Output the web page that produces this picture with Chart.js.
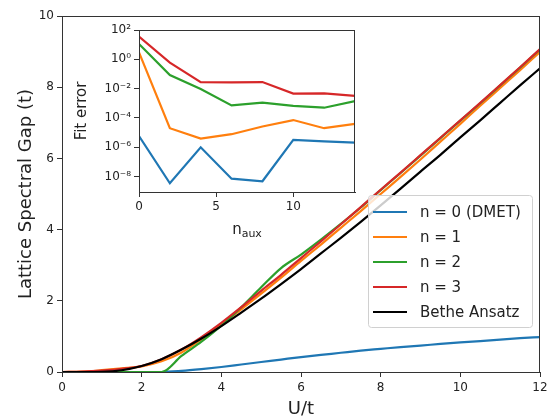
<!DOCTYPE html>
<html>
<head>
<meta charset="utf-8">
<script src="https://cdn.jsdelivr.net/npm/chart.js@4.4.0/dist/chart.umd.min.js"></script>
<style>
    body { margin: 0; background: #fff; }
    #wrap { position: relative; width: 548px; height: 417px; }
    #mainChart { position: absolute; left: 0; top: 0; }
    #insetChart { position: absolute; left: 60px; top: 0; }
</style>
</head>
<body>
<div id="wrap">
    <canvas id="mainChart" width="548" height="417"></canvas>
    <canvas id="insetChart" width="310" height="260"></canvas>
</div>
<script>
// main panel: spectral gap vs U/t
const uValues   = [0, 0.5, 1, 1.5, 2, 2.5, 3, 3.5, 4, 4.5, 5, 5.5, 6, 6.5, 7, 7.5, 8, 8.5, 9, 9.5, 10, 10.5, 11, 11.5, 12];
const gapDMET   = [0, 0, 0, 0, 0, 0, 0.03, 0.08, 0.14, 0.21, 0.28, 0.35, 0.42, 0.48, 0.54, 0.60, 0.65, 0.70, 0.74, 0.79, 0.83, 0.87, 0.91, 0.95, 0.98];
const gapN1     = [0, 0.01, 0.05, 0.1, 0.16, 0.3, 0.55, 0.92, 1.34, 1.76, 2.2, 2.65, 3.12, 3.58, 4.05, 4.52, 5.0, 5.48, 5.97, 6.47, 6.97, 7.48, 7.98, 8.48, 8.99];
const gapN2     = [0, 0, 0, 0, 0, 0, 0.45, 0.85, 1.3, 1.82, 2.38, 2.92, 3.3, 3.72, 4.16, 4.62, 5.11, 5.59, 6.08, 6.57, 7.06, 7.55, 8.05, 8.55, 9.06];
const gapN3     = [0, 0.01, 0.04, 0.09, 0.17, 0.36, 0.63, 0.98, 1.38, 1.82, 2.28, 2.73, 3.2, 3.67, 4.15, 4.63, 5.12, 5.6, 6.09, 6.58, 7.07, 7.56, 8.06, 8.56, 9.07];
const gapBethe  = [0, 0, 0.005, 0.05, 0.17, 0.36, 0.63, 0.94, 1.29, 1.67, 2.06, 2.47, 2.89, 3.33, 3.77, 4.22, 4.68, 5.15, 5.63, 6.10, 6.59, 7.07, 7.56, 8.05, 8.53];
const mainXTicks = [0, 2, 4, 6, 8, 10, 12];
const mainYTicks = [0, 2, 4, 6, 8, 10];

// inset: fit error vs n_aux
const nAux   = [0, 2, 4, 6, 8, 10, 12, 14];
const errN0  = [5.9e-6, 3.5e-9, 1.0e-6, 7.2e-9, 4.8e-9, 3.2e-6, 2.5e-6, 2.1e-6];
const errN1  = [3.0, 2.0e-5, 3.9e-6, 7.8e-6, 2.6e-5, 7.2e-5, 2.0e-5, 3.9e-5];
const errN2  = [11.2, 0.085, 9.5e-3, 7.2e-4, 1.1e-3, 6.6e-4, 5.0e-4, 1.4e-3];
const errN3  = [35, 0.59, 0.028, 0.027, 0.028, 4.6e-3, 4.8e-3, 3.2e-3];
const insetXTicks = [0, 5, 10];
const insetYExp   = [-8, -6, -4, -2, 0, 2];

const seriesNames  = ['n = 0 (DMET)', 'n = 1', 'n = 2', 'n = 3', 'Bethe Ansatz'];
const seriesColors = ['#1f77b4', '#ff7f0e', '#2ca02c', '#d62728', '#000000'];

const FONT = "'DejaVu Sans', sans-serif";
const TEXT = '#222';
const SPINE = '#333';

function pts(xs, ys) {
    return xs.map((x, i) => ({ x: x, y: ys[i] }));
}

function supers(n) {
    const map = { '-': '⁻', '0': '⁰', '1': '¹', '2': '²', '3': '³', '4': '⁴', '5': '⁵', '6': '⁶', '7': '⁷', '8': '⁸', '9': '⁹' };
    return String(n).split('').map(c => map[c]).join('');
}

// full box around the axes + matplotlib-like legend in the lower right
const mainDeco = {
    id: 'mainDeco',
    afterDraw(chart) {
        const ctx = chart.ctx;
        const a = chart.chartArea;
        ctx.save();
        ctx.strokeStyle = SPINE;
        ctx.lineWidth = 1;
        ctx.strokeRect(Math.round(a.left) + 0.5, Math.round(a.top) + 0.5, Math.round(a.right - a.left) - 1, Math.round(a.bottom - a.top));

        const x0 = 368, y0 = 195, w = 164, h = 132;
        ctx.fillStyle = 'rgba(255,255,255,0.8)';
        ctx.strokeStyle = '#d0d0d0';
        ctx.beginPath();
        ctx.roundRect(x0 + 0.5, y0 + 0.5, w, h, 3);
        ctx.fill();
        ctx.stroke();
        ctx.font = '15px ' + FONT;
        ctx.textBaseline = 'middle';
        seriesNames.forEach((name, i) => {
            const y = 212 + i * 25;
            ctx.strokeStyle = seriesColors[i];
            ctx.lineWidth = 2.2;
            ctx.beginPath();
            ctx.moveTo(373, y);
            ctx.lineTo(407, y);
            ctx.stroke();
            ctx.fillStyle = TEXT;
            ctx.fillText(name, 420, y + 1);
        });
        ctx.restore();
    }
};

const gapSeries = [gapDMET, gapN1, gapN2, gapN3, gapBethe];

new Chart(document.getElementById('mainChart'), {
    type: 'line',
    data: {
        datasets: gapSeries.map((ys, i) => ({
            label: seriesNames[i],
            data: pts(uValues, ys),
            borderColor: seriesColors[i],
            borderWidth: 2.2,
            pointRadius: 0,
            cubicInterpolationMode: 'monotone',
            fill: false,
            order: gapSeries.length - i   // later series on top, like matplotlib
        }))
    },
    options: {
        responsive: false,
        animation: false,
        layout: { padding: { top: 16, right: 8, left: 0, bottom: 0 } },
        plugins: { legend: { display: false }, tooltip: { enabled: false } },
        scales: {
            x: {
                type: 'linear', min: 0, max: 12,
                afterBuildTicks: s => { s.ticks = mainXTicks.map(v => ({ value: v })); },
                afterFit: s => { s.height = 45; s.paddingLeft = 0; s.paddingRight = 0; },
                grid: { drawOnChartArea: false, tickLength: 5, color: SPINE },
                border: { color: SPINE, width: 1 },
                ticks: { color: TEXT, font: { family: FONT, size: 12 }, padding: 4, maxRotation: 0 },
                title: { display: true, text: 'U/t', color: TEXT, font: { family: FONT, size: 18, lineHeight: 0.8 }, padding: { top: 0, bottom: 0 } }
            },
            y: {
                type: 'linear', min: 0, max: 10,
                afterBuildTicks: s => { s.ticks = mainYTicks.map(v => ({ value: v })); },
                afterFit: s => { s.width = 62; s.paddingTop = 0; s.paddingBottom = 0; },
                grid: { drawOnChartArea: false, tickLength: 5, color: SPINE },
                border: { color: SPINE, width: 1 },
                ticks: { color: TEXT, font: { family: FONT, size: 12 }, padding: 3 },
                title: { display: true, text: 'Lattice Spectral Gap (t)', color: TEXT, font: { family: FONT, size: 18 }, padding: { top: 16, bottom: 0 } }
            }
        }
    },
    plugins: [mainDeco]
});

// inset: white axes background, box and subscripted x label
const insetDeco = {
    id: 'insetDeco',
    beforeDatasetsDraw(chart) {
        const a = chart.chartArea;
        const ctx = chart.ctx;
        ctx.save();
        ctx.fillStyle = '#fff';
        ctx.fillRect(a.left, a.top, a.right - a.left, a.bottom - a.top);
        ctx.restore();
    },
    afterDraw(chart) {
        const a = chart.chartArea;
        const ctx = chart.ctx;
        ctx.save();
        ctx.strokeStyle = SPINE;
        ctx.lineWidth = 1;
        ctx.strokeRect(Math.round(a.left) + 0.5, Math.round(a.top) + 0.5, Math.round(a.right - a.left) - 1, Math.round(a.bottom - a.top));
        ctx.fillStyle = TEXT;
        ctx.textBaseline = 'alphabetic';
        ctx.font = '15px ' + FONT;
        const cx = (a.left + a.right) / 2;
        const nW = ctx.measureText('n').width;
        ctx.font = '11px ' + FONT;
        const subW = ctx.measureText('aux').width;
        const x0 = cx - (nW + subW) / 2;
        ctx.font = '15px ' + FONT;
        ctx.fillText('n', x0, a.bottom + 42);
        ctx.font = '11px ' + FONT;
        ctx.fillText('aux', x0 + nW, a.bottom + 45);
        ctx.restore();
    }
};

const errSeries = [errN0, errN1, errN2, errN3];

new Chart(document.getElementById('insetChart'), {
    type: 'line',
    data: {
        datasets: errSeries.map((ys, i) => ({
            label: seriesNames[i],
            data: pts(nAux, ys),
            borderColor: seriesColors[i],
            borderWidth: 2.2,
            pointRadius: 0,
            tension: 0,
            fill: false,
            order: errSeries.length - i
        }))
    },
    options: {
        responsive: false,
        animation: false,
        layout: { padding: { top: 30, right: 15, left: 0, bottom: 28 } },
        plugins: { legend: { display: false }, tooltip: { enabled: false } },
        scales: {
            x: {
                type: 'linear', min: 0, max: 14,
                afterBuildTicks: s => { s.ticks = insetXTicks.map(v => ({ value: v })); },
                afterFit: s => { s.height = 40; s.paddingLeft = 0; s.paddingRight = 0; },
                grid: { drawOnChartArea: false, tickLength: 5, color: SPINE },
                border: { color: SPINE, width: 1 },
                ticks: { color: TEXT, font: { family: FONT, size: 12 }, padding: 3, maxRotation: 0 }
            },
            y: {
                type: 'logarithmic', min: Math.pow(10, -9.05), max: 100,
                afterBuildTicks: s => { s.ticks = insetYExp.map(e => ({ value: Math.pow(10, e) })); },
                afterFit: s => { s.width = 79; s.paddingTop = 0; s.paddingBottom = 0; },
                grid: { drawOnChartArea: false, tickLength: 5, color: SPINE },
                border: { color: SPINE, width: 1 },
                ticks: {
                    color: TEXT, font: { family: FONT, size: 12 }, padding: 3,
                    callback: v => '10' + supers(Math.round(Math.log10(v)))
                },
                title: { display: true, text: 'Fit error', color: TEXT, font: { family: FONT, size: 15 }, padding: { top: 13, bottom: 0 } }
            }
        }
    },
    plugins: [insetDeco]
});
</script>
</body>
</html>
